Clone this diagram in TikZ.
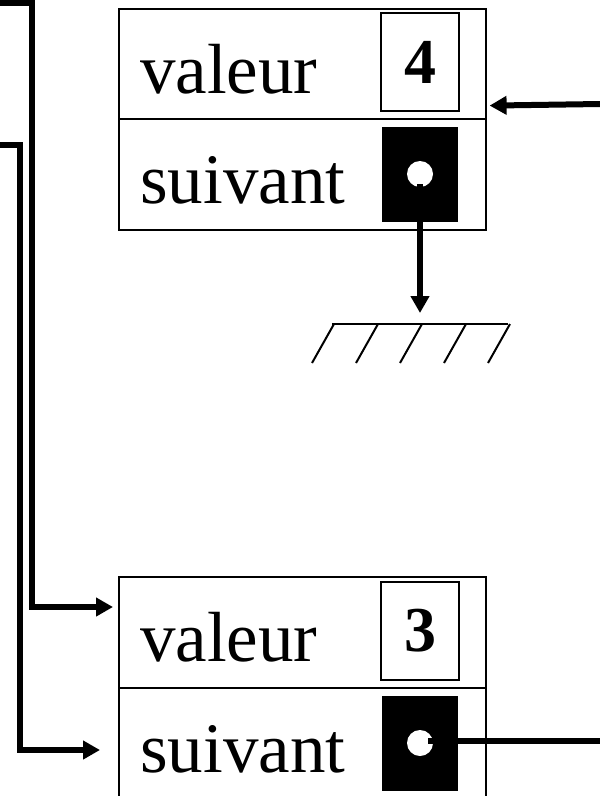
\documentclass[tikz,border=0pt]{standalone}
\usepackage{fontspec}
\setmainfont{Liberation Serif}
\usetikzlibrary{arrows.meta}
\begin{document}
\begin{tikzpicture}[x=1pt,y=-1pt,
  cell/.style={draw, line width=1.6pt, minimum width=367pt, inner sep=0pt, anchor=north west},
  lbl/.style={anchor=base west, inner sep=0pt, font=\fontsize{71}{80}\selectfont},
  valbox/.style={draw, line width=1.8pt, minimum width=78pt, minimum height=98pt, inner sep=0pt,
    font=\fontsize{64}{70}\selectfont\bfseries},
  ptrbox/.style={fill=black, minimum width=76pt, minimum height=95pt, inner sep=0pt},
  hole/.style={circle, fill=white, minimum size=26pt, inner sep=0pt},
  conn/.style={line width=6pt},
  arr/.style={conn, -{Triangle[length=17pt,width=18pt]}},
  ground/.style={line width=2pt}]
\useasboundingbox (0,0) rectangle (600,796);

% first cell: value 4, next pointer to nil
\node[cell, minimum height=110pt] (v4) at (118,8) {};
\node[cell, minimum height=111pt] (s4) at (118,118) {};
\node[lbl] (l4a) at (140,93) {valeur};
\node[lbl] (l4b) at (140,203) {suivant};
\node[valbox] (n4) at (420,62) {4};
\node[ptrbox] (p4) at (420,174.5) {};
\node[hole] (d4) at (420,174) {};

% nil (ground symbol)
\coordinate (nil) at (420,324);
\draw[ground] (332,324) -- (508,324);
\foreach \gx in {334,378,422,466,510}
  \draw[ground] (\gx,324) -- ++(-22,39);
\draw[arr] ([yshift=-10pt]d4.center) -- ([yshift=11pt]nil);

% second cell: value 3
\node[cell, minimum height=111pt] (v3) at (118,576) {};
\node[cell, minimum height=111pt] (s3) at (118,687) {};
\node[lbl] (l3a) at (140,661) {valeur};
\node[lbl] (l3b) at (140,772) {suivant};
\node[valbox] (n3) at (420,631) {3};
\node[ptrbox] (p3) at (420,743) {};
\node[hole] (d3) at (420,743) {};

% incoming references
\coordinate (srcA) at (0,2.5);
\coordinate (srcB) at (0,145);
\coordinate (srcC) at (600,104);
\coordinate (srcD) at (600,741);
\draw[arr] (srcA) -| (32,607) -- ([shift={(-5,31)}]v3.north west);
\draw[arr] (srcB) -| (19.5,750) -- ([shift={(-18,63)}]s3.north west);
\draw[arr] (srcC) -- ([shift={(3,-14)}]v4.south east);
\draw[conn] ([shift={(8,-2)}]d3.center) -- (srcD);
\end{tikzpicture}
\end{document}
